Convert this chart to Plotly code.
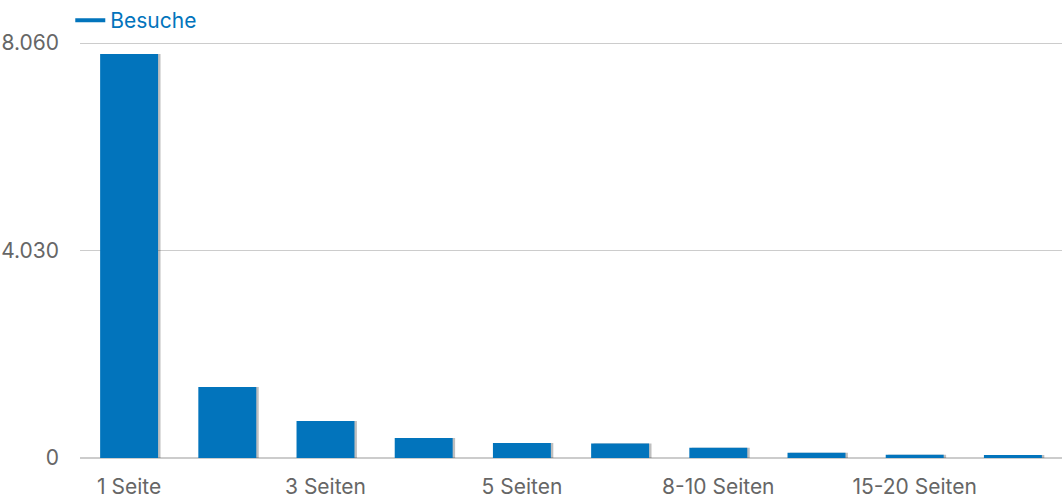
import plotly.graph_objects as go

categories = ["1 Seite", "2 Seiten", "3 Seiten", "4 Seiten", "5 Seiten",
              "6-7 Seiten", "8-10 Seiten", "11-14 Seiten", "15-20 Seiten", "21+ Seiten"]
besuche = [7846, 1379, 719, 388, 291, 284, 200, 103, 64, 58]
y_tick_vals = [0, 4030, 8060]
y_tick_text = ["0", "4.030", "8.060"]
x_tick_labels = categories[::2]

BLUE = "#0274bc"
FONT = "Inter, Roboto, sans-serif"
FS = 21

fig = go.Figure()
# subtle shadow on the right side of each bar
fig.add_trace(go.Bar(x=categories, y=besuche, width=0.59, offset=-0.27,
                     marker=dict(color="rgba(0,0,0,0.25)", line=dict(width=0)),
                     showlegend=False, hoverinfo="skip"))
fig.add_trace(go.Bar(x=categories, y=besuche, width=0.59, offset=-0.295,
                     marker=dict(color=BLUE, line=dict(width=0)),
                     name="Besuche", showlegend=False))
# legend entry drawn as a short line
fig.add_trace(go.Scatter(x=[None], y=[None], mode="lines", name="Besuche",
                         line=dict(color=BLUE, width=4)))

fig.update_layout(
    width=1062, height=500,
    margin=dict(l=80, r=0, t=41, b=42, autoexpand=False),
    paper_bgcolor="white", plot_bgcolor="white",
    barmode="overlay",
    font=dict(family=FONT, size=FS, color="#666666"),
    showlegend=True,
    legend=dict(x=-0.0099, xref="paper", xanchor="left",
                y=1, yref="container", yanchor="top",
                orientation="h", itemwidth=30, font=dict(color=BLUE, size=FS),
                bgcolor="rgba(0,0,0,0)"),
    xaxis=dict(type="category", tickvals=x_tick_labels, ticktext=x_tick_labels,
               showgrid=False, zeroline=False, showline=False, ticks="",
               automargin=False, ticklabelstandoff=14,
               tickfont=dict(size=FS, color="#666666"), range=[-0.5, 9.5]),
    yaxis=dict(range=[0, 8100], tickvals=y_tick_vals, ticktext=y_tick_text,
               showgrid=True, gridcolor="#cccccc", gridwidth=1,
               zeroline=True, zerolinecolor="#cccccc", zerolinewidth=2,
               showline=False, ticks="", ticklabelstandoff=20, automargin=False,
               tickfont=dict(size=FS, color="#666666")),
)
fig.write_html("out.html", config={"displayModeBar": False},
               post_script="document.body.style.margin='0px';document.body.style.overflow='hidden';")
